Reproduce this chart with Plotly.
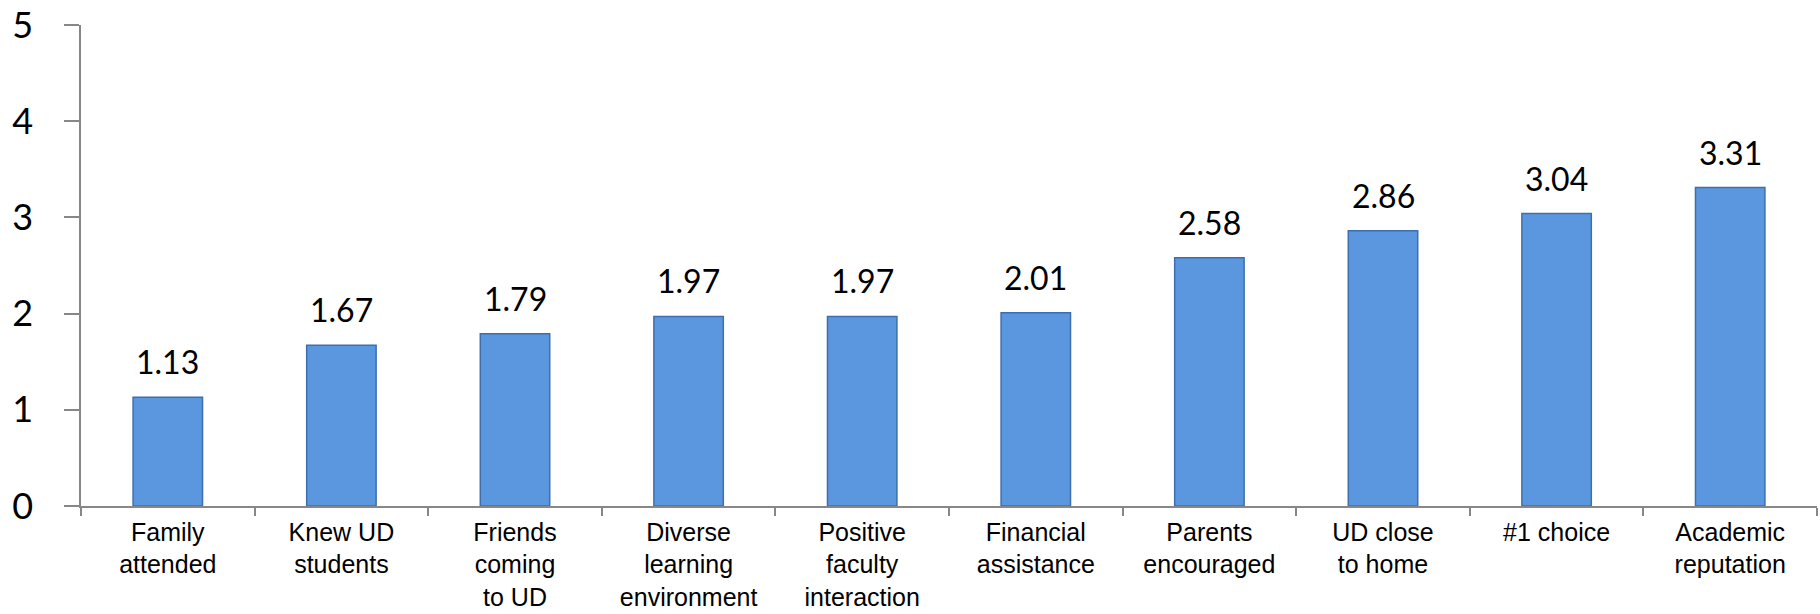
import plotly.graph_objects as go

categories = [
    "Family<br>attended",
    "Knew UD<br>students",
    "Friends<br>coming<br>to UD",
    "Diverse<br>learning<br>environment",
    "Positive<br>faculty<br>interaction",
    "Financial<br>assistance",
    "Parents<br>encouraged",
    "UD close<br>to home",
    "#1 choice",
    "Academic<br>reputation",
]
values = [1.13, 1.67, 1.79, 1.97, 1.97, 2.01, 2.58, 2.86, 3.04, 3.31]
value_labels = ["1.13", "1.67", "1.79", "1.97", "1.97", "2.01", "2.58", "2.86", "3.04", "3.31"]
y_ticks = [0, 1, 2, 3, 4, 5]

fig = go.Figure()
fig.add_trace(go.Bar(
    x=categories,
    y=values,
    marker=dict(color="#5B97DE", line=dict(color="#3D6FAE", width=1.5)),
    width=0.4,
    hoverinfo="skip",
))

for c, v, t in zip(categories, values, value_labels):
    fig.add_annotation(
        x=c, y=v, text=t, showarrow=False, yanchor="bottom", yshift=14,
        font=dict(family="Lato", size=32, color="#000000"),
    )

fig.update_layout(
    width=1820, height=614,
    margin=dict(l=81, r=3, t=25, b=108, autoexpand=False),
    plot_bgcolor="white", paper_bgcolor="white",
    showlegend=False,
)
fig.update_xaxes(
    automargin=False,
    showline=True, linecolor="#878787", linewidth=1.5,
    ticks="outside", ticklen=8, tickcolor="#878787", tickwidth=1.5,
    tickson="boundaries",
    tickfont=dict(family="Liberation Sans", size=25, color="#000000"),
    ticklabelstandoff=3,
    ticklabeloverflow="allow",
    showgrid=False, tickangle=0,
)
fig.update_yaxes(
    automargin=False,
    range=[0, 5], tickvals=y_ticks,
    showline=True, linecolor="#878787", linewidth=1.5,
    ticks="outside", ticklen=15, tickcolor="#878787", tickwidth=1.5,
    tickfont=dict(family="Lato", size=36, color="#000000"),
    ticklabelstandoff=24,
    ticklabeloverflow="allow",
    showgrid=False, zeroline=False,
)

fig.write_html(
    "out.html",
    config={"displayModeBar": False},
    post_script="document.body.style.margin='0';document.body.style.overflow='hidden';",
)
